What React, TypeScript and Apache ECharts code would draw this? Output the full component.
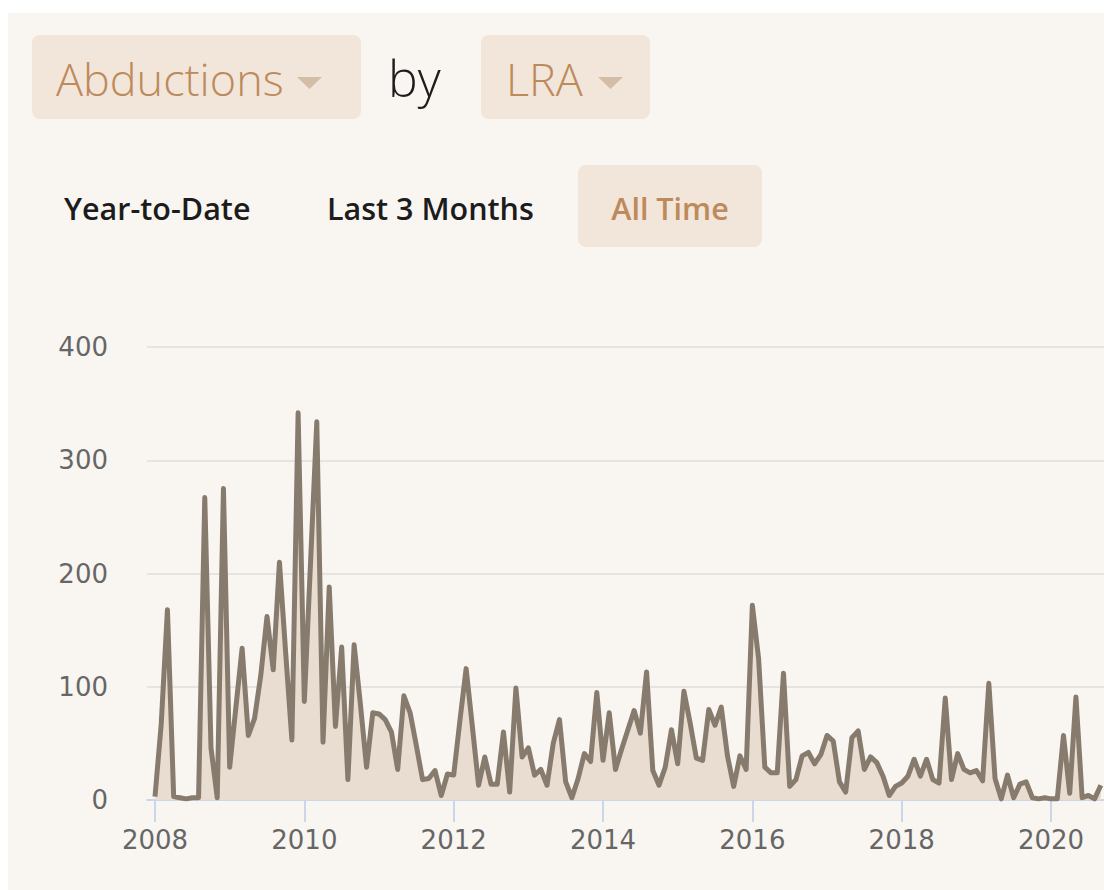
import React, { useEffect, useRef } from "react";
import * as echarts from "echarts";

const START_YEAR = 2008;
const v2008 = [3, 67, 168, 3, 2, 1, 2, 2, 267, 46, 2, 275];
const v2009 = [29, 82, 134, 57, 72, 110, 162, 115, 210, 130, 53, 342];
const v2010 = [87, 210, 334, 51, 188, 65, 135, 18, 137, 85, 29, 77];
const v2011 = [76, 71, 60, 27, 92, 77, 48, 18, 19, 26, 4, 23];
const v2012 = [22, 70, 116, 65, 13, 38, 14, 14, 60, 7, 99, 38];
const v2013 = [46, 22, 27, 13, 50, 71, 16, 2, 19, 41, 34, 95];
const v2014 = [35, 77, 27, 45, 62, 79, 59, 113, 26, 13, 29, 62];
const v2015 = [32, 96, 68, 37, 35, 80, 66, 82, 39, 12, 39, 27];
const v2016 = [172, 125, 29, 24, 24, 112, 12, 18, 39, 42, 32, 40];
const v2017 = [57, 52, 16, 7, 55, 61, 27, 38, 33, 21, 4, 12];
const v2018 = [15, 21, 36, 21, 36, 18, 15, 90, 18, 41, 27, 24];
const v2019 = [26, 17, 103, 19, 1, 22, 2, 14, 16, 2, 1, 2];
const v2020 = [1, 1, 57, 6, 91, 2, 4, 1, 13];
const YEARS = [v2008, v2009, v2010, v2011, v2012, v2013, v2014, v2015, v2016, v2017, v2018, v2019, v2020];

const X_TICKS = [2008, 2010, 2012, 2014, 2016, 2018, 2020];
const Y_TICKS = [0, 100, 200, 300, 400];

const METRIC = "Abductions";
const GROUP = "LRA";
const RANGES = ["Year-to-Date", "Last 3 Months", "All Time"];

const TAN = "#bd8a5c";
const BOX = "#f2e5da";
const ARROW = "#d4bda6";

export default function App() {
  const ref = useRef<HTMLDivElement>(null);
  useEffect(() => {
    if (!ref.current) return;
    const chart = echarts.init(ref.current, undefined, { renderer: "svg" });
    const data: [number, number][] = [];
    YEARS.forEach((arr, yi) => {
      arr.forEach((v, mi) => data.push([START_YEAR + yi + mi / 12, v]));
    });
    const pxPerYear = 74.67;
    const gridLeft = 147;
    const xMin = 2008 - (155 - gridLeft) / pxPerYear;
    const xMax = 2022;
    const rightPx = 155 + (xMax - 2008) * pxPerYear;
    chart.setOption({
      animation: false,
      grid: { left: gridLeft, top: 347, bottom: 90, right: 1300 - rightPx },
      xAxis: {
        type: "value",
        min: xMin,
        max: xMax,
        splitLine: { show: false },
        axisLine: { show: true, lineStyle: { color: "#ccd6eb", width: 2 } },
        axisTick: {
          show: true,
          customValues: X_TICKS,
          length: 22,
          lineStyle: { color: "#ccd6eb", width: 2 },
        },
        axisLabel: {
          customValues: X_TICKS,
          formatter: (v: number) => String(Math.round(v)),
          color: "#666666",
          fontFamily: "DejaVu Sans",
          fontSize: 26,
          margin: 27,
        },
      },
      yAxis: {
        type: "value",
        min: 0,
        max: 400,
        interval: 100,
        axisLine: { show: false },
        axisTick: { show: false },
        splitLine: { lineStyle: { color: "#e6e4e2", width: 2 } },
        axisLabel: {
          color: "#666666",
          fontFamily: "DejaVu Sans",
          fontSize: 26,
          margin: 39,
          formatter: (v: number) => String(v),
        },
        data: Y_TICKS,
      },
      series: [
        {
          type: "line",
          data,
          showSymbol: false,
          lineStyle: { color: "#877b6e", width: 5, join: "round" },
          areaStyle: { color: "#e9ddd1", opacity: 1 },
          z: 3,
        },
      ],
      graphic: [
        { type: "rect", shape: { x: 32, y: 35, width: 329, height: 84, r: 8 }, style: { fill: BOX } },
        {
          type: "text",
          x: 56,
          y: 78,
          style: { text: METRIC, font: "300 45px 'Open Sans'", fill: TAN, textVerticalAlign: "middle" },
        },
        { type: "polygon", shape: { points: [[297, 77], [322, 77], [309.5, 89]] }, style: { fill: ARROW } },
        {
          type: "text",
          x: 388,
          y: 78,
          style: { text: "by", font: "300 50px 'Open Sans'", fill: "#1c1c1c", textVerticalAlign: "middle" },
        },
        { type: "rect", shape: { x: 481, y: 35, width: 169, height: 84, r: 8 }, style: { fill: BOX } },
        {
          type: "text",
          x: 506,
          y: 78,
          style: { text: GROUP, font: "300 45px 'Open Sans'", fill: TAN, textVerticalAlign: "middle" },
        },
        { type: "polygon", shape: { points: [[598, 77], [623, 77], [610.5, 89]] }, style: { fill: ARROW } },
        {
          type: "text",
          x: 64,
          y: 208,
          style: { text: RANGES[0], font: "600 30.5px 'Open Sans'", fill: "#1c1c1c", textVerticalAlign: "middle" },
        },
        {
          type: "text",
          x: 327,
          y: 208,
          style: { text: RANGES[1], font: "600 30.5px 'Open Sans'", fill: "#1c1c1c", textVerticalAlign: "middle" },
        },
        { type: "rect", shape: { x: 578, y: 165, width: 184, height: 82, r: 8 }, style: { fill: BOX } },
        {
          type: "text",
          x: 670,
          y: 208,
          style: { text: RANGES[2], font: "600 30.5px 'Open Sans'", fill: TAN, textAlign: "center", textVerticalAlign: "middle" },
        },
      ],
    });
    return () => chart.dispose();
  }, []);
  return (
    <div style={{ position: "fixed", left: 0, top: 0, width: 1104, height: 890, overflow: "hidden", background: "#ffffff" }}>
      <div style={{ position: "absolute", left: 8, top: 13, width: 1400, height: 1000, background: "#f9f6f2" }} />
      <div ref={ref} style={{ position: "absolute", left: 0, top: 0, width: 1300, height: 890 }} />
    </div>
  );
}
